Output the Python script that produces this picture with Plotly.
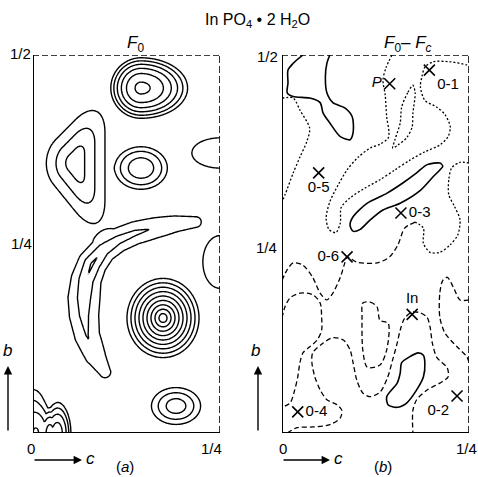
import numpy as np
import plotly.graph_objects as go

# ---------------- Panel (a): F_o map, features ----------------
# Round / oval peaks: centre (cell fractions), height (contour units), radii (cell fractions;
# rc2 = radius on the +c side), profile
peak_c = [0.1444, 0.1444, 0.2500, 0.1738, 0.1912, 0.0000, 0.0334, 0.0227, 0.2500]
peak_b = [0.4563, 0.3505, 0.3704, 0.1521, 0.0357, 0.0000, 0.0000, 0.0000, 0.2262]
peak_h = [6.2, 3.6, 2.0, 10.0, 3.5, 3.3, 3.4, 1.2, 1.6]
peak_rc = [0.0441, 0.0414, 0.0695, 0.0535, 0.0481, 0.0267, 0.0187, 0.0468, 0.0374]
peak_rc2 = [0.0680, 0.0414, 0.0695, 0.0535, 0.0481, 0.0267, 0.0187, 0.0468, 0.0374]
peak_rb = [0.0437, 0.0331, 0.0370, 0.0582, 0.0357, 0.0688, 0.0476, 0.0463, 0.0569]
peak_shape = ["para", "para", "bump", "cone", "bump", "para", "para", "bump", "para"]

# Triangular peak (left): centre, outward face directions (deg), reach, height
tri_c, tri_b = 0.0561, 0.3571
tri_face_deg = [0.0, 135.0, 219.3]
tri_reach = 0.0537
tri_h = 3.95

# Crescent ridge: crest points, crest heights, half-widths
ridge_c = [0.0963, 0.0829, 0.0722, 0.0682, 0.0682, 0.0709, 0.0789, 0.0936, 0.1136, 0.1364, 0.1631, 0.1898, 0.2179]
ridge_b = [0.0807, 0.1032, 0.1296, 0.1561, 0.1786, 0.2024, 0.2235, 0.2421, 0.2553, 0.2646, 0.2712, 0.2765, 0.2791]
ridge_h = [1.4, 1.7, 2.1, 2.45, 2.7, 2.9, 3.2, 2.8, 2.5, 2.3, 1.9, 1.55, 1.35]
ridge_w = [0.0266, 0.0332, 0.0319, 0.0332, 0.0339, 0.0306, 0.0279, 0.0266, 0.0265, 0.0265, 0.0285, 0.0300, 0.0270]

contour_levels = dict(start=1, end=10, size=1)

# ---------------- Panel (b): F_o - F_c map -- contour lines (thousandths of cell) ----------------
S1_c = [28, 15, 8, 8, 7, 15, 37, 51, 55, 64, 78, 91, 95, 94, 84, 68, 60, 58, 60, 64]
S1_b = [500, 489, 480, 463, 450, 445, 443, 437, 423, 410, 392, 388, 397, 418, 430, 437, 450, 471, 489, 500]
S2_c = [91, 95, 114, 140, 162, 180, 194, 211, 215, 211, 202, 185, 158, 135, 118, 104, 95, 91]
S2_b = [275, 286, 304, 317, 331, 344, 355, 357, 353, 348, 339, 321, 304, 295, 282, 269, 267, 275]
S3_c = [182, 189, 191, 189, 180, 167, 154, 142, 140, 154, 158, 160, 171, 182]
S3_b = [106, 103, 93, 74, 57, 40, 34, 37, 48, 66, 79, 93, 101, 106]

D1_c = [147, 139, 135, 138, 140, 143, 142, 131, 118, 102, 87, 75, 64, 59, 63, 72, 78, 79, 91, 111,
        131, 151, 171, 191, 211, 222, 225, 218, 207, 191, 185, 187, 191, 202, 225, 247, 250]
D1_b = [500, 483, 467, 447, 418, 398, 390, 382, 377, 365, 348, 328, 306, 284, 269, 265, 278, 298, 311, 324,
        335, 348, 361, 372, 381, 392, 405, 421, 431, 440, 458, 471, 484, 491, 491, 487, 486]
D2_c = [0, 15, 24, 37, 33, 24, 15, 4, 0]
D2_b = [443, 443, 427, 403, 385, 365, 344, 315, 306]
D3_c = [250, 238, 227, 223, 223, 231, 238, 235, 225, 211, 198, 189, 189, 178]
D3_b = [357, 358, 351, 335, 315, 299, 282, 262, 249, 239, 239, 251, 271, 279]
D4_c = [175, 168, 160, 158, 151, 148, 155, 167, 174, 175, 178, 175]
D4_b = [460, 450, 431, 410, 388, 377, 381, 391, 405, 423, 450, 460]

L1_c = [0, 4, 11, 24, 41, 51, 53, 53, 47, 37, 28, 24, 21, 17, 11, 0]
L1_b = [152, 167, 179, 185, 183, 172, 153, 136, 123, 114, 106, 93, 74, 57, 40, 34]
L2_c = [7, 20, 41, 64, 78, 80, 74, 60, 51, 44, 40, 41, 55, 68, 82, 91, 95, 100, 108, 118, 131, 141, 148,
        154, 158, 164, 174, 185, 194, 198, 201, 207, 221, 222, 211, 194, 180, 175, 175]
L2_b = [0, 7, 8, 11, 20, 30, 37, 44, 57, 74, 93, 106, 119, 126, 123, 110, 93, 70, 53, 48, 54, 73, 97,
        119, 136, 152, 160, 159, 153, 140, 119, 100, 86, 74, 66, 57, 44, 30, 0]
L3_c = [108, 118, 127, 131, 142, 140, 131, 114, 108, 107, 108]
L3_b = [172, 173, 167, 149, 145, 110, 90, 87, 110, 153, 172]
L4_c = [250, 238, 229, 221, 215, 211, 211, 218, 234, 247, 250]
L4_b = [176, 176, 193, 206, 202, 185, 153, 132, 114, 101, 94]
L5_c = [178, 164, 155, 144, 127, 100, 87, 84, 78, 68, 60, 51, 41, 28, 15, 7, 0]
L5_b = [279, 271, 249, 233, 225, 226, 233, 225, 206, 185, 176, 185, 206, 222, 225, 216, 202]

site_names = ["<i>P</i>", "0-1", "0-5", "0-3", "0-6", "In", "0-2", "0-4"]
site_c = [144, 197, 49, 159, 87, 174, 234, 21]
site_b = [462, 480, 344, 291, 233, 157, 49, 28]
site_textpos = ["middle left", "bottom right", "bottom center", "middle right",
                "middle left", "top center", "bottom left", "middle right"]

# ---------------- build the F_o density field ----------------
FONT = "Liberation Sans, Arial, sans-serif"
cg = np.linspace(0, 0.25, 201)
bg = np.linspace(0, 0.5, 401)
C, B = np.meshgrid(cg, bg)
Z = np.zeros_like(C)
for c0, b0, h, rc, rc2, rb, sh in zip(peak_c, peak_b, peak_h, peak_rc, peak_rc2, peak_rb, peak_shape):
    rcx = np.where(C >= c0, rc2, rc)
    rho2 = ((C - c0) / rcx) ** 2 + ((B - b0) / rb) ** 2
    if sh == "cone":
        f = h * np.clip(1 - np.sqrt(rho2), 0, None)
    elif sh == "para":
        f = h * np.clip(1 - rho2, 0, None)
    else:
        f = h * np.clip(1 - rho2, 0, None) ** 2
    Z += f

# triangular peak: rounded-triangle gauge, linear fall-off
acc = np.zeros_like(C)
for deg in tri_face_deg:
    nx, ny = np.cos(np.radians(deg)), np.sin(np.radians(deg))
    acc += np.clip(nx * (C - tri_c) + ny * (B - tri_b), 0, None) ** 2
rho = np.sqrt(acc) / tri_reach
Z += tri_h * np.clip(1 - rho, 0, None)

# crescent ridge: height falls off linearly with distance from the crest line
R = np.zeros_like(C)
for i in range(len(ridge_c) - 1):
    x0, y0, x1, y1 = ridge_c[i], ridge_b[i], ridge_c[i + 1], ridge_b[i + 1]
    dx, dy = x1 - x0, y1 - y0
    t = np.clip(((C - x0) * dx + (B - y0) * dy) / (dx * dx + dy * dy), 0, 1)
    d = np.hypot(C - (x0 + t * dx), B - (y0 + t * dy))
    e = ridge_h[i] + t * (ridge_h[i + 1] - ridge_h[i])
    w = ridge_w[i] + t * (ridge_w[i + 1] - ridge_w[i])
    R = np.maximum(R, e * np.clip(1 - d / w, 0, None))
Z += R
Z = np.round(Z, 3)

fig = go.Figure()
fig.add_trace(go.Contour(
    x=cg, y=bg, z=Z, xaxis="x", yaxis="y",
    contours=dict(coloring="lines", **contour_levels),
    colorscale=[[0, "black"], [1, "black"]], showscale=False,
    line=dict(width=1.4, smoothing=1.0), hoverinfo="skip"))

def k(v):
    return [x / 1000 for x in v]

solid = [(S1_c, S1_b), (S2_c, S2_b), (S3_c, S3_b)]
short = [(D1_c, D1_b), (D2_c, D2_b), (D3_c, D3_b), (D4_c, D4_b)]
longd = [(L1_c, L1_b), (L2_c, L2_b), (L3_c, L3_b), (L4_c, L4_b), (L5_c, L5_b)]
for group, dash, w in [(solid, "solid", 1.6), (short, "2px,2px", 1.3), (longd, "5px,3px", 1.3)]:
    for cc, bb in group:
        fig.add_trace(go.Scatter(x=k(cc), y=k(bb), xaxis="x2", yaxis="y2", mode="lines",
                                 line=dict(color="black", width=w, dash=dash, shape="spline", smoothing=0.8),
                                 hoverinfo="skip", showlegend=False))

fig.add_trace(go.Scatter(x=k(site_c), y=k(site_b), xaxis="x2", yaxis="y2", mode="markers+text",
                         text=site_names, textposition=site_textpos,
                         textfont=dict(family=FONT, size=15, color="black"),
                         marker=dict(symbol="x-thin", size=11, line=dict(width=1.6, color="black")),
                         hoverinfo="skip", showlegend=False, cliponaxis=False))

ax = dict(range=[0, 0.25], showgrid=False, zeroline=False, showticklabels=False, showline=False, ticks="")
ay = dict(range=[0, 0.5], showgrid=False, zeroline=False, showticklabels=False, showline=False, ticks="")
ydom = [1 - 433 / 477, 1 - 55 / 477]
fig.update_layout(
    width=478, height=477, margin=dict(l=0, r=0, t=0, b=0),
    paper_bgcolor="white", plot_bgcolor="white", showlegend=False,
    xaxis=dict(domain=[33 / 478, 220 / 478], **ax),
    yaxis=dict(domain=ydom, **ay),
    xaxis2=dict(domain=[282 / 478, 469 / 478], **ax),
    yaxis2=dict(domain=ydom, **ay),
)

shapes = []
for xr, yr in [("x", "y"), ("x2", "y2")]:
    shapes += [
        dict(type="line", xref=xr, yref=yr, x0=0, x1=0, y0=0, y1=0.5, line=dict(color="black", width=2)),
        dict(type="line", xref=xr, yref=yr, x0=0, x1=0.25, y0=0, y1=0, line=dict(color="black", width=2)),
        dict(type="line", xref=xr, yref=yr, x0=0, x1=0.25, y0=0.5, y1=0.5,
             line=dict(color="black", width=1.6, dash="6px,3px")),
        dict(type="line", xref=xr, yref=yr, x0=0.25, x1=0.25, y0=0, y1=0.5,
             line=dict(color="black", width=1.6, dash="7px,3px")),
    ]
fig.update_layout(shapes=shapes)

def txt(x, y, s, size=15):
    return dict(x=x / 478, y=1 - y / 477, xref="paper", yref="paper", text=s, showarrow=False,
                font=dict(family=FONT, size=size, color="black"), xanchor="center", yanchor="middle")

ann = [
    txt(257, 21, "In PO<sub>4</sub> • 2 H<sub>2</sub>O", 16),
    txt(135, 44, "<i>F</i><sub>0</sub>", 17),
    txt(408, 44, "<i>F</i><sub>0</sub>– <i>F<sub>c</sub></i>", 17),
    txt(20, 54, "1/2"), txt(267, 56, "1/2"),
    txt(21, 243, "1/4"), txt(266, 247, "1/4"),
    txt(31, 448, "0"), txt(283, 448, "0"),
    txt(211, 448, "1/4"), txt(466, 448, "1/4"),
    txt(125, 466, "(<i>a</i>)"), txt(383, 466, "(<i>b</i>)"),
    txt(8, 350, "<i>b</i>", 17), txt(256, 350, "<i>b</i>", 17),
    txt(90, 458, "<i>c</i>", 17), txt(338, 458, "<i>c</i>", 17),
]
for hx, hy, dx, dy in [(8, 366, 0, 66), (258, 366, 0, 66), (82, 460, -49, 0), (330, 460, -48, 0)]:
    ann.append(dict(x=hx / 478, y=1 - hy / 477, xref="paper", yref="paper", text="", showarrow=True,
                    ax=dx, ay=dy, arrowhead=2, arrowsize=1.2, arrowwidth=1.4, arrowcolor="black"))
fig.update_layout(annotations=ann)

fig.write_html("out.html", config={"displayModeBar": False},
               post_script="document.body.style.margin='0px';")
